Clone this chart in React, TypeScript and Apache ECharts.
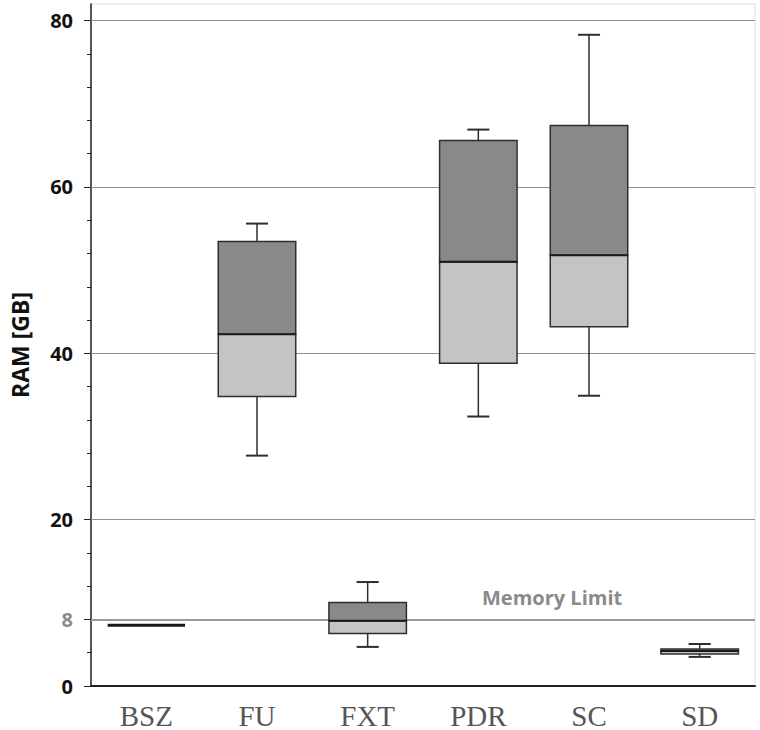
import React, { useEffect, useRef } from "react";
import * as echarts from "echarts";

const categories = ["BSZ", "FU", "FXT", "PDR", "SC", "SD"];
const whiskerLow = [7.3, 27.7, 4.7, 32.4, 34.9, 3.5];
const quartile1 = [7.3, 34.8, 6.3, 38.8, 43.2, 3.85];
const median = [7.3, 42.3, 7.85, 51.0, 51.8, 4.2];
const quartile3 = [7.3, 53.45, 10.05, 65.6, 67.4, 4.45];
const whiskerHigh = [7.3, 55.6, 12.5, 66.9, 78.3, 5.05];

const majorTicks = [0, 8, 20, 40, 60, 80];
const minorTicks = [4, 12, 16, 24, 28, 32, 36, 44, 48, 52, 56, 64, 68, 72, 76];
const gridValues = [20, 40, 60, 80];
const memoryLimit = 8;
const memoryLimitLabel = "Memory Limit";
const yAxisName = "RAM [GB]";

const DARK = "#898989";
const LIGHT = "#c4c4c4";
const EDGE = "#2e2e2e";

export default function App() {
  const ref = useRef<HTMLDivElement>(null);
  useEffect(() => {
    if (!ref.current) return;
    const chart = echarts.init(ref.current, null, { renderer: "svg" });
    const data = categories.map((_, i) => [
      i,
      whiskerLow[i],
      quartile1[i],
      median[i],
      quartile3[i],
      whiskerHigh[i],
    ]);
    const renderItem = (params: any, api: any) => {
      const idx = api.value(0);
      const lo = api.coord([idx, api.value(1)]);
      const q1 = api.coord([idx, api.value(2)]);
      const md = api.coord([idx, api.value(3)]);
      const q3 = api.coord([idx, api.value(4)]);
      const hi = api.coord([idx, api.value(5)]);
      const bw = api.size([1, 0])[0] * 0.7;
      const cw = api.size([1, 0])[0] * 0.2;
      const cx = lo[0];
      const lineStyle = { stroke: EDGE, lineWidth: 1.5 };
      const children: any[] = [];
      if (hi[1] < q3[1]) {
        children.push({ type: "line", shape: { x1: cx, y1: hi[1], x2: cx, y2: q3[1] }, style: lineStyle });
        children.push({ type: "line", shape: { x1: cx - cw / 2, y1: hi[1], x2: cx + cw / 2, y2: hi[1] }, style: { stroke: EDGE, lineWidth: 2 } });
      }
      if (lo[1] > q1[1]) {
        children.push({ type: "line", shape: { x1: cx, y1: q1[1], x2: cx, y2: lo[1] }, style: lineStyle });
        children.push({ type: "line", shape: { x1: cx - cw / 2, y1: lo[1], x2: cx + cw / 2, y2: lo[1] }, style: { stroke: EDGE, lineWidth: 2 } });
      }
      if (q1[1] - md[1] > 0.1) {
        children.push({
          type: "rect",
          shape: { x: cx - bw / 2, y: md[1], width: bw, height: q1[1] - md[1] },
          style: { fill: LIGHT, stroke: EDGE, lineWidth: 1.5 },
        });
      }
      if (md[1] - q3[1] > 0.1) {
        children.push({
          type: "rect",
          shape: { x: cx - bw / 2, y: q3[1], width: bw, height: md[1] - q3[1] },
          style: { fill: DARK, stroke: EDGE, lineWidth: 1.5 },
        });
      }
      const collapsed = q1[1] - q3[1] < 0.5;
      children.push({
        type: "line",
        shape: { x1: cx - bw / 2, y1: md[1], x2: cx + bw / 2, y2: md[1] },
        style: { stroke: "#1a1a1a", lineWidth: collapsed ? 3 : 2 },
      });
      return { type: "group", children };
    };

    const option: any = {
      animation: false,
      backgroundColor: "#ffffff",
      grid: {
        left: 89,
        right: 5,
        top: 4,
        bottom: 43,
        show: true,
        borderColor: "#dddddd",
        borderWidth: 1,
        backgroundColor: "transparent",
      },
      xAxis: {
        type: "category",
        data: categories,
        axisLine: { lineStyle: { color: "#222222", width: 2 } },
        axisTick: { show: false },
        splitLine: { show: false },
        axisLabel: {
          fontFamily: "Liberation Serif",
          fontSize: 29,
          color: "#555555",
          margin: 15,
        },
      },
      yAxis: [
        {
          type: "value",
          min: 0,
          max: 82,
          name: yAxisName,
          nameLocation: "middle",
          nameGap: 60,
          nameTextStyle: {
            fontFamily: "Open Sans",
            fontWeight: "bold",
            fontSize: 23,
            color: "#111111",
          },
          axisLine: { show: true, lineStyle: { color: "#222222", width: 1.5 } },
          axisTick: { show: true, customValues: majorTicks, length: 7, lineStyle: { color: "#222222" } },
          splitLine: { show: false },
          axisLabel: {
            customValues: majorTicks,
            margin: 18,
            formatter: (v: number) => (v === memoryLimit ? "{g|" + v + "}" : "{b|" + v + "}"),
            rich: {
              b: { fontFamily: "Open Sans", fontWeight: "bold", fontSize: 20, color: "#111111" },
              g: { fontFamily: "Open Sans", fontWeight: "bold", fontSize: 20, color: "#8c8c8c" },
            },
          },
        },
        {
          type: "value",
          min: 0,
          max: 82,
          position: "left",
          axisLine: { show: false },
          axisTick: { show: true, customValues: minorTicks, length: 4, lineStyle: { color: "#222222" } },
          axisLabel: { show: false },
          splitLine: { show: false },
        },
      ],
      graphic: [
        {
          type: "text",
          left: 482,
          top: 587,
          style: {
            text: memoryLimitLabel,
            font: 'bold 20px "Open Sans"',
            fill: "#8a8a8a",
          },
        },
      ],
      series: [
        {
          type: "custom",
          yAxisIndex: 0,
          renderItem,
          data,
          encode: { x: 0, y: [1, 2, 3, 4, 5] },
          z: 3,
          markLine: {
            silent: true,
            symbol: ["none", "none"],
            label: { show: false },
            z: 2,
            data: [
              ...gridValues.map((v) => ({ yAxis: v, lineStyle: { color: "#8f8f8f", width: 1, type: "solid" } })),
              { yAxis: memoryLimit, lineStyle: { color: "#9a9a9a", width: 2, type: "solid" } },
            ],
          },
        },
      ],
    };
    chart.setOption(option);
    return () => chart.dispose();
  }, []);
  return (
    <div
      ref={ref}
      style={{ position: "absolute", left: 0, top: 0, width: 760, height: 730 }}
    />
  );
}
